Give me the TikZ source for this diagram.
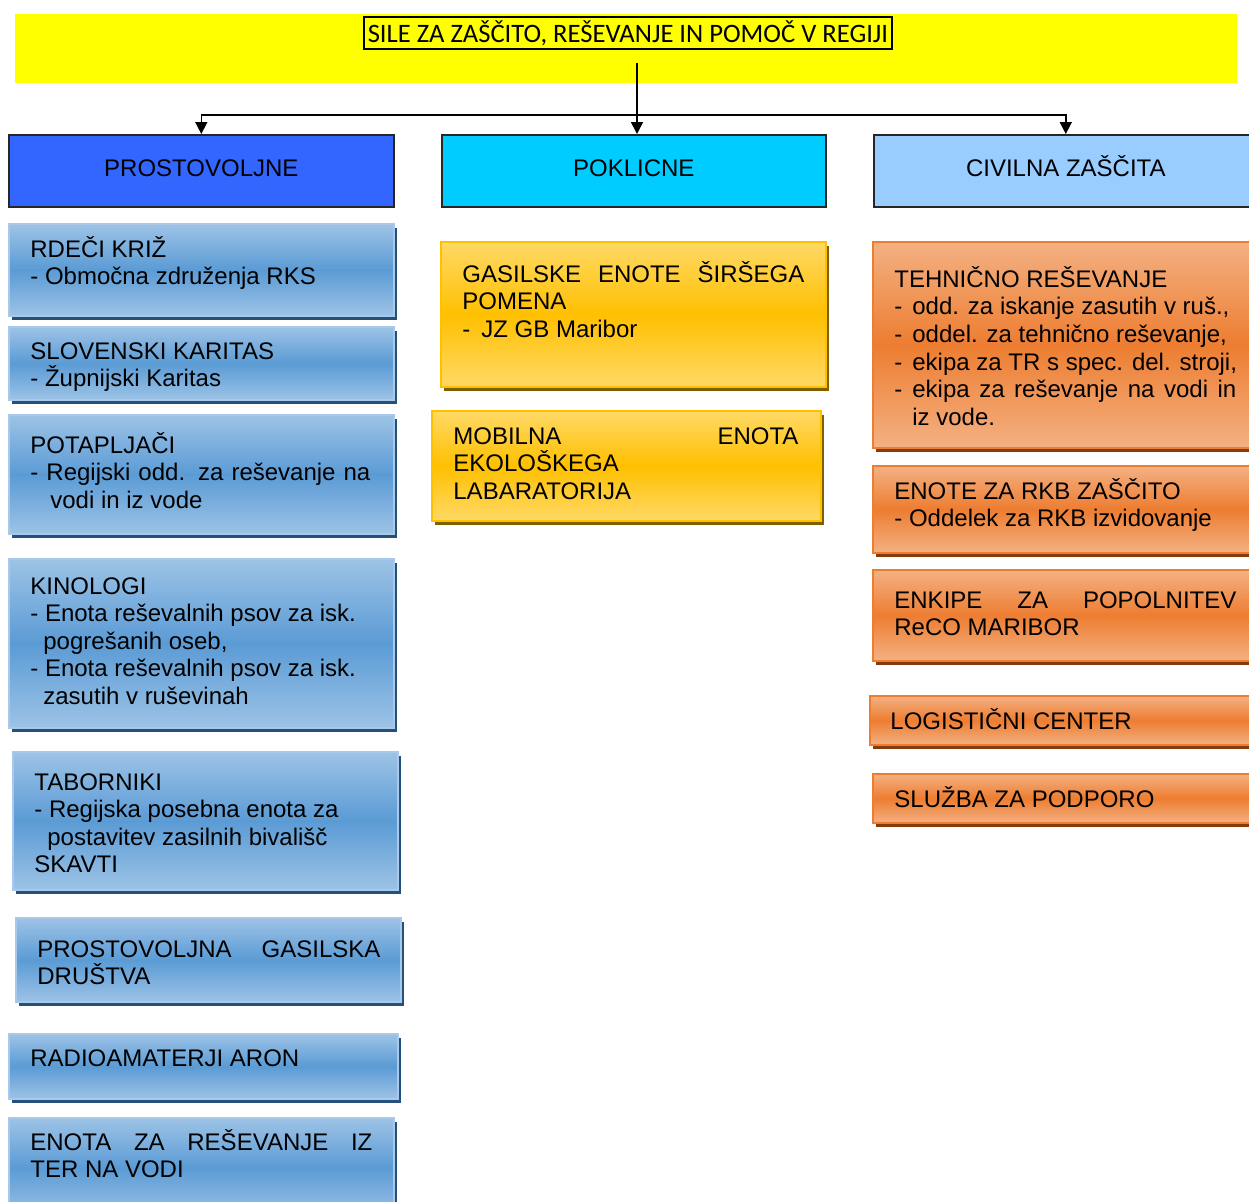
\documentclass[tikz,border=0pt]{standalone}
\usepackage{fontspec}
\setmainfont{Liberation Sans}
\newfontfamily\TitleFont{Carlito}
\usepackage{xcolor}
\definecolor{ColBand}{RGB}{255,255,0}
\definecolor{ColPro}{RGB}{51,102,255}
\definecolor{ColPok}{RGB}{0,204,255}
\definecolor{ColCiv}{RGB}{153,204,255}
\definecolor{ColBlueL}{RGB}{157,195,230}
\definecolor{ColBlueM}{RGB}{91,155,213}
\definecolor{ColBlueE}{RGB}{170,201,234}
\definecolor{ColBlueS}{RGB}{36,80,124}
\definecolor{ColGoldL}{RGB}{255,217,102}
\definecolor{ColGoldM}{RGB}{255,192,0}
\definecolor{ColGoldS}{RGB}{127,96,0}
\definecolor{ColOraL}{RGB}{244,177,131}
\definecolor{ColOraM}{RGB}{237,125,49}
\definecolor{ColOraS}{RGB}{132,60,12}
\usepackage{tikz}
\usetikzlibrary{shadows}
\usetikzlibrary{arrows.meta}
\tikzstyle{Band}=[rectangle,anchor=north west,fill=ColBand,inner sep=0pt]
\tikzstyle{TitleBox}=[rectangle,draw=black,line width=1pt,inner sep=0pt,
font=\TitleFont\fontsize{13.3}{15}\selectfont]
\tikzstyle{Head}=[rectangle,anchor=north west,draw=black!85,line width=0.8pt,
inner sep=0pt,text height=8.6pt,text depth=3pt,font=\fontsize{12}{14}\selectfont]
\tikzstyle{Box}=[rectangle,anchor=north west,line width=0.9pt,inner sep=0pt]
\tikzstyle{BlueBox}=[Box,draw=ColBlueE,top color=ColBlueL,bottom color=ColBlueL,
middle color=ColBlueM,general shadow={fill=ColBlueS,shadow xshift=1.5pt,shadow yshift=-2.2pt}]
\tikzstyle{GoldBox}=[Box,draw=ColGoldM,top color=ColGoldL,bottom color=ColGoldL,
middle color=ColGoldM,general shadow={fill=ColGoldS,shadow xshift=1.5pt,shadow yshift=-2.2pt}]
\tikzstyle{OraBox}=[Box,draw=ColOraM,top color=ColOraL,bottom color=ColOraL,
middle color=ColOraM,general shadow={fill=ColOraS,shadow xshift=1.5pt,shadow yshift=-2.2pt}]
\tikzstyle{Txt}=[anchor=north west,inner sep=0pt,align=left,
font=\fontsize{12}{13.8}\selectfont,execute at begin node={\rule{0pt}{12pt}}]
\tikzstyle{Conn}=[draw=black,line width=0.8pt,-{Triangle[width=6pt,length=6pt]}]

\begin{document}
\begin{tikzpicture}[x=0.5pt,y=-0.5pt]
    \useasboundingbox(0,0)rectangle(1249,1201);
    \clip(0,0)rectangle(1249,1201);
    % title
    \node[Band,minimum width=611pt,minimum height=34.5pt](band)at(15,14){};
    \node[TitleBox,minimum width=264pt,minimum height=16pt](title)at(628,33)
        {SILE ZA ZAŠČITO, REŠEVANJE IN POMOČ V REGIJI};
    % headers
    \node[Head,fill=ColPro,minimum width=192.5pt,minimum height=36pt](pro)at(8,134){PROSTOVOLJNE};
    \node[Head,fill=ColPok,minimum width=192pt,minimum height=36pt](pok)at(441,134){POKLICNE};
    \node[Head,fill=ColCiv,minimum width=192pt,minimum height=36pt](civ)at(873,134){CIVILNA ZAŠČITA};
    \coordinate(split)at(637,63);
    \coordinate(bar)at(637,115);
    \draw[Conn](split)--(split|-pok.north);
    \draw[Conn](bar)-|(pro.north);
    \draw[Conn](bar)-|(civ.north);
    % prostovoljne
    \node[BlueBox,minimum width=192.5pt,minimum height=46pt](rk)at(8,223){};
    \node[BlueBox,minimum width=192.5pt,minimum height=36.5pt](sk)at(8,326){};
    \node[BlueBox,minimum width=192.5pt,minimum height=59.5pt](pot)at(8,414){};
    \node[BlueBox,minimum width=192.5pt,minimum height=84.5pt](kin)at(8,558){};
    \node[BlueBox,minimum width=192.5pt,minimum height=69pt](tab)at(12,751){};
    \node[BlueBox,minimum width=192.5pt,minimum height=42pt](pgd)at(15,917){};
    \node[BlueBox,minimum width=194.5pt,minimum height=32.5pt](rad)at(8,1033){};
    \node[BlueBox,minimum width=192.5pt,minimum height=50pt](eno)at(8,1117){};
    \node[Txt](rkT)at(30,236){RDEČI KRIŽ\\- Območna združenja RKS};
    \node[Txt](skT)at(30,342){SLOVENSKI KARITAS\\- Župnijski Karitas};
    \node[Txt](potT)at(30,432){POTAPLJAČI\\\makebox[170pt][s]{- Regijski odd. za reševanje na}\\
        \hspace*{10pt}vodi in iz vode};
    \node[Txt](kinT)at(30,577){KINOLOGI\\- Enota reševalnih psov za isk.\\\hspace*{6.5pt}pogrešanih oseb,\\
        - Enota reševalnih psov za isk.\\\hspace*{6.5pt}zasutih v ruševinah};
    \node[Txt](tabT)at(34,773){TABORNIKI\\- Regijska posebna enota za\\
        \hspace*{6.5pt}postavitev zasilnih bivališč\\SKAVTI};
    \node[Txt](pgdT)at(37,940){\makebox[171.5pt][s]{PROSTOVOLJNA GASILSKA}\\DRUŠTVA};
    \node[Txt](radT)at(30,1042){RADIOAMATERJI ARON};
    \node[Txt](enoT)at(30,1129){\makebox[171pt][s]{ENOTA ZA REŠEVANJE IZ}\\TER NA VODI};
    % poklicne
    \node[GoldBox,minimum width=192.5pt,minimum height=72.5pt](gas)at(440,241){};
    \node[GoldBox,minimum width=194.5pt,minimum height=55pt](mob)at(431,410){};
    \node[Txt](gasT)at(462,261){\makebox[171pt][s]{GASILSKE ENOTE ŠIRŠEGA}\\POMENA\\
        \makebox[9.5pt][l]{-}JZ GB Maribor};
    \node[Txt](mobT)at(453,427){\makebox[172.5pt][s]{MOBILNA ENOTA}\\EKOLOŠKEGA\\LABARATORIJA};
    % civilna zascita
    \node[OraBox,minimum width=192.5pt,minimum height=103pt](teh)at(872,241){};
    \node[OraBox,minimum width=192.5pt,minimum height=43.5pt](rkb)at(872,465){};
    \node[OraBox,minimum width=192.5pt,minimum height=45.5pt](enk)at(872,569){};
    \node[OraBox,minimum width=192.5pt,minimum height=24.5pt](log)at(869,695){};
    \node[OraBox,minimum width=192.5pt,minimum height=24.5pt](slu)at(872,773){};
    \node[Txt](tehT)at(894,266){TEHNIČNO REŠEVANJE\\
        \makebox[9pt][l]{-}odd. za iskanje zasutih v ruš.,\\
        \makebox[9pt][l]{-}oddel. za tehnično reševanje,\\
        \makebox[9pt][l]{-}ekipa za TR s spec. del. stroji,\\
        \makebox[9pt][l]{-}\makebox[162pt][s]{ekipa za reševanje na vodi in}\\
        \hspace*{9pt}iz vode.};
    \node[Txt](rkbT)at(894,478){ENOTE ZA RKB ZAŠČITO\\- Oddelek za RKB izvidovanje};
    \node[Txt](enkT)at(894,591){\makebox[171pt][s]{ENKIPE ZA POPOLNITEV}\\ReCO MARIBOR};
    \node[Txt](logT)at(890,705){LOGISTIČNI CENTER};
    \node[Txt](sluT)at(894,783){SLUŽBA ZA PODPORO};
\end{tikzpicture}
\end{document}
